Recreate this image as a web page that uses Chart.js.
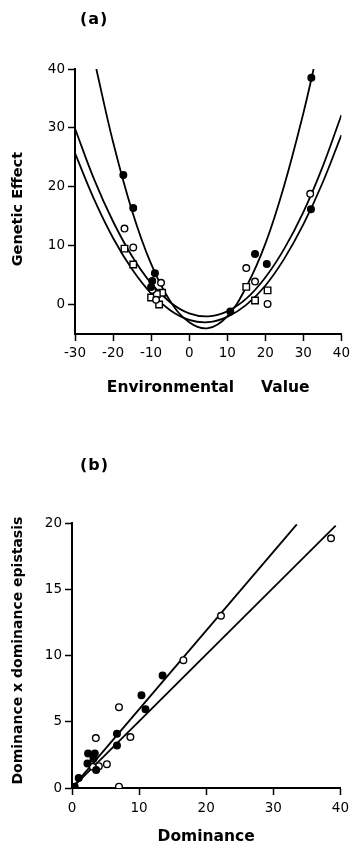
<!DOCTYPE html>
<html>
<head>
<meta charset="utf-8">
<script src="https://cdn.jsdelivr.net/npm/chart.js@4.4.0/dist/chart.umd.min.js"></script>
<style>
  html, body { margin: 0; padding: 0; background: #fff; }
  body { width: 354px; height: 846px; position: relative; overflow: hidden; }
  .panel { position: absolute; left: 0; width: 354px; }
  #wrapA { top: 0; height: 420px; }
  #wrapB { top: 420px; height: 426px; }
  .tag { position: absolute; left: 80px; font: bold 16px 'DejaVu Sans', sans-serif; letter-spacing: 1px; line-height: 19px; }
</style>
</head>
<body>
<div class="panel" id="wrapA"><canvas id="chartA" width="354" height="420"></canvas></div>
<div class="panel" id="wrapB"><canvas id="chartB" width="354" height="426"></canvas></div>
<div class="tag" style="top:9px">(a)</div>
<div class="tag" style="top:455px">(b)</div>
<script>
// (a) genetic effect against environmental value
const envTicks = [-30, -20, -10, 0, 10, 20, 30, 40];
const effectTicks = [0, 10, 20, 30, 40];

const filledX = [-17.3, -14.7, -9.0, -9.7, -10.0, 10.8, 17.3, 20.4, 32.1, 32.0];
const filledY = [22.0, 16.4, 5.3, 4.0, 3.0, -1.2, 8.6, 6.9, 38.5, 16.2];
const openX = [-17.0, -14.7, -7.4, -9.7, -8.7, 15.0, 17.3, 20.6, 31.8];
const openY = [12.9, 9.7, 3.7, 2.5, 0.8, 6.2, 3.9, 0.1, 18.8];
const squareX = [-17.0, -14.7, -10.0, -7.9, -7.1, -8.5, 15.0, 17.3, 20.6];
const squareY = [9.5, 6.8, 1.2, 0.0, 2.0, 1.8, 3.0, 0.7, 2.4];

// fitted curves
const steepX = [-24.4, -20, -15, -10, -5, 0, 5, 10, 15, 20, 25, 30, 32.7];
const steepY = [40, 27.6, 15.9, 6.9, 0.6, -3.0, -4.0, -2.0, 3.0, 10.3, 20.3, 32.5, 40];
const curveX = [-30, -25, -20, -15, -10, -5, 0, 5, 10, 15, 20, 25, 30, 35, 40];
const upperY = [29.9, 21.3, 14.1, 8.2, 3.6, 0.4, -1.5, -2.0, -1.15, 1.0, 4.6, 9.5, 15.7, 23.3, 32.2];
const lowerY = [25.7, 17.9, 11.3, 6.0, 1.9, -0.95, -2.6, -3.0, -2.1, -0.06, 3.2, 7.8, 13.6, 20.6, 28.8];

// (b) dominance x dominance epistasis against dominance
const domTicks = [0, 10, 20, 30, 40];
const epiTicks = [0, 5, 10, 15, 20];
const domOpenX = [22.2, 16.6, 7.0, 8.7, 3.55, 5.2, 4.0, 3.1, 7.0, 38.6];
const domOpenY = [13.0, 9.65, 6.1, 3.85, 3.77, 1.8, 1.65, 1.6, 0.1, 18.85];
const domFilledX = [13.5, 10.35, 10.95, 6.7, 6.7, 2.4, 3.4, 2.3, 3.2, 3.6, 1.0, 0.4];
const domFilledY = [8.5, 7.0, 5.95, 4.1, 3.2, 2.6, 2.6, 1.85, 2.2, 1.35, 0.75, 0.1];
const lineSteepX = [0, 33.5];
const lineSteepY = [0, 19.9];
const lineFlatX = [0, 39.3];
const lineFlatY = [0, 19.8];

function pts(xs, ys) {
    return xs.map((x, i) => ({ x: x, y: ys[i] }));
}

function marks(xs, ys, style, filled) {
    return {
        data: pts(xs, ys),
        showLine: false,
        pointStyle: style,
        pointRadius: style === 'rect' ? 4.6 : 3.3,
        pointBorderWidth: 1.4,
        pointBackgroundColor: filled ? '#000' : '#fff',
        pointBorderColor: '#000'
    };
}

function curve(xs, ys, tension) {
    return {
        data: pts(xs, ys),
        showLine: true,
        borderColor: '#000',
        borderWidth: 1.8,
        pointRadius: 0,
        tension: tension,
        fill: false
    };
}

function axis(min, max, tickList, size, titleText, titleSize, titlePad) {
    return {
        type: 'linear',
        min: min,
        max: max,
        afterBuildTicks: a => { a.ticks = tickList.map(v => ({ value: v })); },
        afterFit: a => {
            if (a.isHorizontal()) a.height = size; else a.width = size;
        },
        grid: { display: true, drawOnChartArea: false, drawTicks: true, tickLength: 7, tickWidth: 1.5, color: '#000' },
        border: { display: true, color: '#000', width: 2 },
        ticks: { color: '#000', font: { family: 'DejaVu Sans', size: 13.5 }, padding: 3, maxRotation: 0 },
        title: {
            display: true,
            text: titleText,
            color: '#000',
            font: { family: 'DejaVu Sans', size: titleSize, weight: 'bold' },
            padding: titlePad
        }
    };
}

const baseOptions = {
    responsive: false,
    animation: false,
    plugins: { legend: { display: false }, tooltip: { enabled: false } }
};

// Panel (a)
const xA = axis(-30, 40, envTicks, 86, 'Environmental     Value', 15.5, { top: 0, bottom: 23 });
xA.ticks.padding = 4;
const yA = axis(-5, 40, effectTicks, 75, 'Genetic Effect   ', 14.5, { top: 10, bottom: 0 });

new Chart(document.getElementById('chartA').getContext('2d'), {
    type: 'scatter',
    data: {
        datasets: [
            marks(filledX, filledY, 'circle', true),
            marks(openX, openY, 'circle', false),
            marks(squareX, squareY, 'rect', false),
            curve(steepX, steepY, 0.4),
            curve(curveX, upperY, 0.4),
            curve(curveX, lowerY, 0.4)
        ]
    },
    options: Object.assign({}, baseOptions, {
        layout: { padding: { top: 69, right: 10, bottom: 0, left: 0 } },
        scales: { x: xA, y: yA }
    })
});

// Panel (b)
const xB = axis(0, 40, domTicks, 58, 'Dominance', 15.5, { top: 0, bottom: 0 });
xB.ticks.padding = 5;
const yB = axis(0, 20, epiTicks, 72, '  Dominance x dominance epistasis', 14, { top: 10, bottom: 0 });

new Chart(document.getElementById('chartB').getContext('2d'), {
    type: 'scatter',
    data: {
        datasets: [
            marks(domFilledX, domFilledY, 'circle', true),
            marks(domOpenX, domOpenY, 'circle', false),
            curve(lineSteepX, lineSteepY, 0),
            curve(lineFlatX, lineFlatY, 0)
        ]
    },
    options: Object.assign({}, baseOptions, {
        layout: { padding: { top: 103, right: 12, bottom: 0, left: 0 } },
        scales: { x: xB, y: yB }
    })
});
</script>
</body>
</html>
